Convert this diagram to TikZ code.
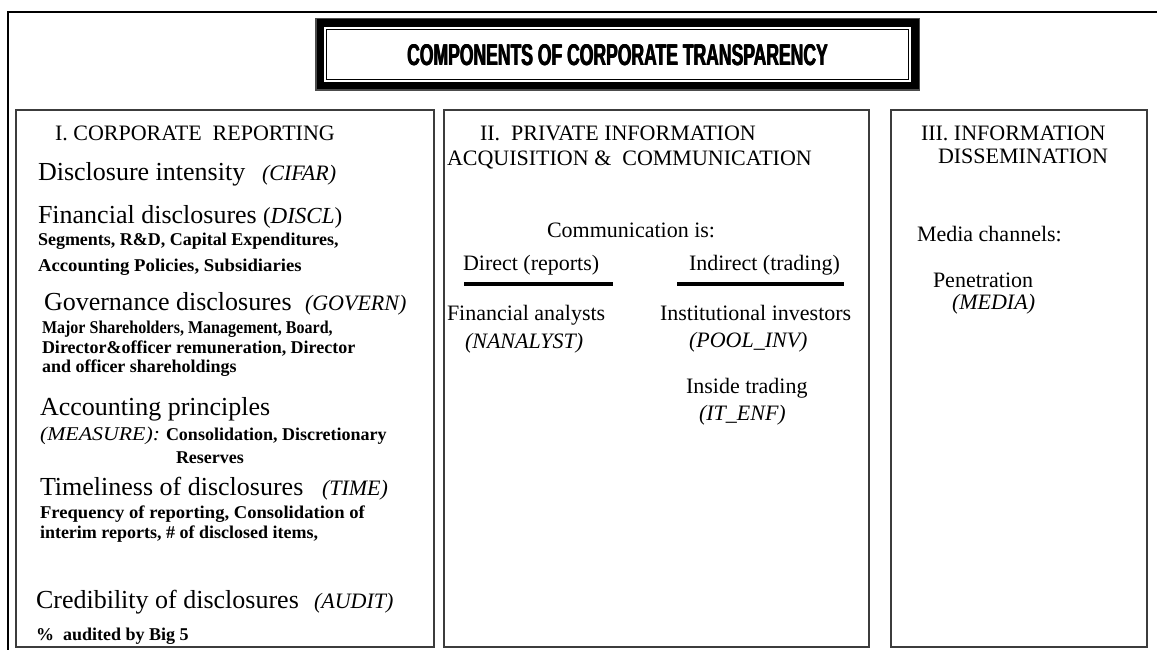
\documentclass[tikz,border=0pt]{standalone}
\usepackage{fontspec}
\setmainfont{Liberation Serif}
\newfontfamily\titlefont{Liberation Sans}
\definecolor{boxgray}{RGB}{60,60,60}
\newcommand{\ttltext}{\scalebox{0.585}[1]{\titlefont\fontsize{30}{30}\selectfont\bfseries COMPONENTS OF CORPORATE TRANSPARENCY}}
\tikzset{
  txt/.style={anchor=base west, inner sep=0pt, outer sep=0pt},
  hd/.style={txt, font=\fontsize{22}{24}\selectfont},
  big/.style={txt, font=\fontsize{26}{28}\selectfont},
  tag/.style={txt, font=\fontsize{22}{24}\selectfont\itshape},
  small/.style={txt, font=\fontsize{18}{20}\selectfont\bfseries},
  col/.style={draw=boxgray, line width=1.8pt},
  ttl/.style={inner sep=0pt, outer sep=0pt},
}
\begin{document}
\begin{tikzpicture}[x=1pt,y=-1pt]
\useasboundingbox (0,0) rectangle (1157,650);
% outer frame
\draw[line width=2.5pt] (8,652) -- (8,12) -- (1160,12);
% title box
\fill[black!70] (315,18) rectangle (920,91);
\fill[black] (316.5,19.5) rectangle (918.5,89.5);
\fill[white] (324,27) rectangle (911,82);
\draw[line width=1.4pt] (326.5,29.5) rectangle (908.5,79.5);
\node[ttl] (titleA) at (617.2,55) {\ttltext};
\node[ttl] (titleB) at (617.6,55) {\ttltext};
\node[ttl] (title) at (618.0,55) {\ttltext};
% column boxes
\draw[col] (16,110) rectangle (434,647);
\draw[col] (444,110) rectangle (869,647);
\draw[col] (891,110) rectangle (1147,647);
% Box I
\node[hd] (h1) at (55,141) {I. CORPORATE\ \ REPORTING};
\node[big] (b1) at (38,180) {Disclosure intensity};
\node[tag] (g1) at (262,180) {(CIFAR)};
\node[big] (b2) at (38,223) {Financial disclosures};
\node[txt, font=\fontsize{23}{25}\selectfont] (g2) at (263,223) {(\textit{DISCL})};
\node[small] (s1) at (38,245) {Segments, R\&D, Capital Expenditures,};
\node[small] (s2) at (38,271) {\scalebox{1.04}[1]{Accounting Policies, Subsidiaries}};
\node[big] (b3) at (44,310) {Governance disclosures};
\node[tag] (g3) at (305,310) {(GOVERN)};
\node[small] (s3) at (42,333) {\scalebox{0.89}[1]{Major Shareholders, Management, Board,}};
\node[small] (s4) at (42,353) {Director\&officer remuneration, Director};
\node[small] (s5) at (42,372) {and officer shareholdings};
\node[big] (b4) at (40,415) {Accounting principles};
\node[txt, font=\fontsize{19.5}{21}\selectfont\itshape] (g4) at (40,440) {\scalebox{1.12}[1]{(MEASURE):}};
\node[small] (s6) at (166,440) {Consolidation, Discretionary};
\node[small] (s7) at (176,463) {Reserves};
\node[big] (b5) at (40,495) {Timeliness of disclosures};
\node[tag] (g5) at (322,495) {(TIME)};
\node[small] (s8) at (40,518) {\scalebox{1.035}[1]{Frequency of reporting, Consolidation of}};
\node[small] (s9) at (40,538) {interim reports, \# of disclosed items,};
\node[big] (b6) at (36,608) {Credibility of disclosures};
\node[tag] (g6) at (314,608) {(AUDIT)};
\node[small] (s10) at (36,640) {\%\ \ audited by Big 5};
% Box II
\node[hd] (h2) at (480,141) {II.\ \ PRIVATE INFORMATION};
\node[hd] (h2b) at (447,166) {ACQUISITION \&\ \ COMMUNICATION};
\node[hd] (c1) at (547,237) {Communication is:};
\node[hd] (d1) at (463,270) {Direct (reports)};
\node[hd] (d2) at (689,270) {Indirect (trading)};
\coordinate (r1a) at (464,284); \coordinate (r1b) at (613,284);
\coordinate (r2a) at (677,284); \coordinate (r2b) at (844,284);
\draw[line width=4pt] (r1a) -- (r1b);
\draw[line width=4pt] (r2a) -- (r2b);
\node[hd] (f1) at (447,320) {Financial analysts};
\node[tag] (f2) at (465,348) {(NANALYST)};
\node[hd] (i1) at (660,320) {Institutional investors};
\node[tag] (i2) at (689,347) {(POOL\_INV)};
\node[hd] (i3) at (686,393) {Inside trading};
\node[tag] (i4) at (699,420) {(IT\_ENF)};
% Box III
\node[hd] (h3) at (921,141) {III. INFORMATION};
\node[hd] (h3b) at (938,164) {DISSEMINATION};
\node[hd] (m1) at (917,241) {Media channels:};
\node[hd] (m2) at (933,287) {Penetration};
\node[tag] (m3) at (952,309) {(MEDIA)};
\end{tikzpicture}
\end{document}
